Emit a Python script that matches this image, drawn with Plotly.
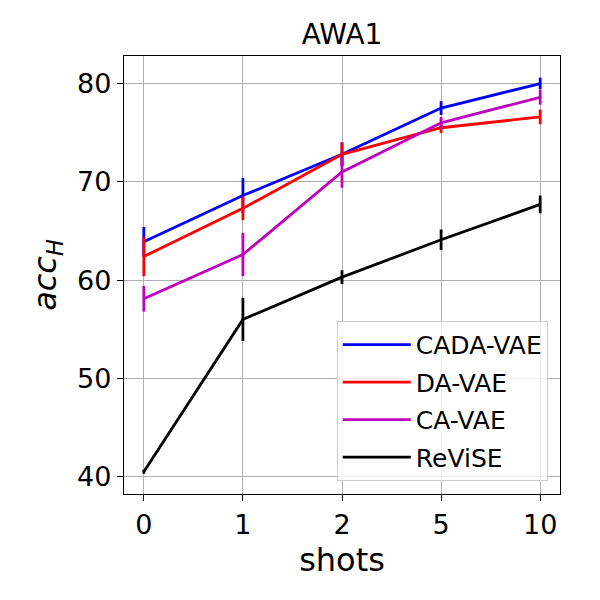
import plotly.graph_objects as go

shots = ["0", "1", "2", "5", "10"]
cada_vae = [63.9, 68.6, 72.8, 77.5, 80.0]
cada_err = [1.5, 1.8, 1.2, 0.7, 0.6]
da_vae = [62.4, 67.3, 72.8, 75.5, 76.6]
da_err = [2.0, 1.2, 1.2, 0.55, 0.75]
ca_vae = [58.1, 62.6, 71.0, 76.0, 78.6]
ca_err = [1.3, 2.2, 1.6, 0.6, 0.75]
revise = [40.5, 56.0, 60.3, 64.1, 67.7]
revise_err = [0.2, 2.2, 0.7, 1.05, 0.9]

series = [
    ("CADA-VAE", cada_vae, cada_err, "#0000ff"),
    ("DA-VAE", da_vae, da_err, "#ff0000"),
    ("CA-VAE", ca_vae, ca_err, "#bf00bf"),
    ("ReViSE", revise, revise_err, "#000000"),
]

xpos = list(range(len(shots)))
fig = go.Figure()
for name, vals, errs, col in series:
    fig.add_trace(go.Scatter(
        x=xpos, y=vals, name=name, mode="lines", legendgroup=name,
        line=dict(color=col, width=2.8),
        error_y=dict(type="data", array=errs, visible=True, color=col, thickness=2.8, width=0),
    ))

font = "DejaVu Sans, sans-serif"
fig.update_layout(
    width=600, height=600,
    margin=dict(l=124, r=40, t=56, b=106),
    paper_bgcolor="white", plot_bgcolor="white",
    font=dict(family=font, color="black"),
    title=dict(text="AWA1", x=(124 + 560) / 2 / 600, xanchor="center", y=1 - 34 / 600, yanchor="middle",
               font=dict(size=28, family=font, color="black")),
    showlegend=True,
    legend=dict(x=0.972, y=0.03, xanchor="right", yanchor="bottom",
                bgcolor="rgba(255,255,255,0.8)", bordercolor="#cccccc", borderwidth=1,
                font=dict(size=25, family=font, color="black"),
                traceorder="grouped", tracegroupgap=2, itemwidth=68),
)
fig.update_xaxes(
    range=[-0.2, 4.2], tickvals=xpos, ticktext=shots,
    showgrid=True, gridcolor="#b0b0b0", gridwidth=1,
    showline=True, linecolor="black", linewidth=1.3, mirror=True,
    ticks="outside", ticklen=6, tickcolor="black", tickwidth=1.3,
    tickfont=dict(size=27, family=font), zeroline=False,
    title=dict(text="shots", font=dict(size=32, family=font), standoff=10),
)
fig.update_yaxes(
    range=[38.24, 82.8], tickvals=[40, 50, 60, 70, 80],
    showgrid=True, gridcolor="#b0b0b0", gridwidth=1,
    showline=True, linecolor="black", linewidth=1.3, mirror=True,
    ticks="outside", ticklen=6, tickcolor="black", tickwidth=1.3,
    tickfont=dict(size=27, family=font), zeroline=False,
    title=dict(text="<i>acc</i><sub><i>H</i></sub>", font=dict(size=32, family=font), standoff=10),
)
fig.write_html("out.html")
